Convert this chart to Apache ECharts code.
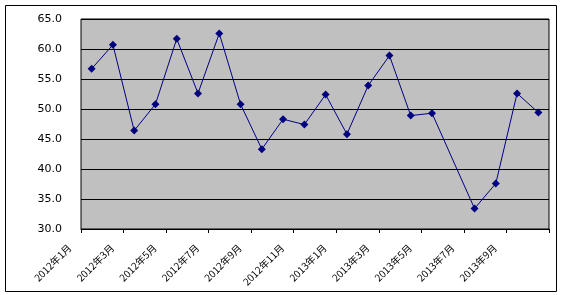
<!DOCTYPE html>
<html><head><meta charset="utf-8">
<script src="https://cdn.jsdelivr.net/npm/echarts@6/dist/echarts.min.js"></script>
<style>html,body{margin:0;padding:0;background:#fff}#c{width:561px;height:295px}</style>
</head><body><div id="c"></div>
<script>
var categories = ['2012年1月','2012年2月','2012年3月','2012年4月','2012年5月','2012年6月','2012年7月','2012年8月','2012年9月','2012年10月','2012年11月','2012年12月','2013年1月','2013年2月','2013年3月','2013年4月','2013年5月','2013年6月','2013年7月','2013年8月','2013年9月','2013年10月'];
var values = [56.7, 60.7, 46.4, 50.8, 61.7, 52.6, 62.6, 50.8, 43.3, 48.3, 47.4, 52.4, 45.8, 53.9, 58.9, 48.9, 49.3, null, 33.4, 37.6, 52.6, 49.4];
var yMin = 30, yMax = 65, yStep = 5;

var chart = echarts.init(document.getElementById('c'), null, {renderer:'canvas'});
chart.setOption({
  animation: false,
  backgroundColor: '#fff',
  graphic: [{type:'rect', shape:{x:5.5,y:5.5,width:551,height:286}, style:{fill:'none', stroke:'#000', lineWidth:1}, silent:true, z:-1}],
  grid: {left:81, right:12, top:19, bottom:66, show:true, backgroundColor:'#C0C0C0', borderColor:'#000', borderWidth:1},
  xAxis: {
    type:'category', data:categories, boundaryGap:true,
    axisLine:{lineStyle:{color:'#000', width:1}},
    axisTick:{show:true, interval:1, length:4, lineStyle:{color:'#000'}},
    axisLabel:{interval:1, rotate:45, margin:-5, padding:[0,31,0,0], fontSize:10, color:'#000', fontFamily:'Noto Sans CJK SC'}
  },
  yAxis: {
    type:'value', min:yMin, max:yMax, interval:yStep,
    axisLine:{show:false}, axisTick:{show:false},
    splitLine:{lineStyle:{color:'#000', width:1}},
    axisLabel:{margin:19, fontSize:11, color:'#000', fontFamily:'DejaVu Sans', formatter:function(v){return v.toFixed(1);}}
  },
  series: [{
    type:'line', data:values, connectNulls:true,
    symbol:'diamond', symbolSize:8,
    lineStyle:{color:'#000080', width:1},
    itemStyle:{color:'#000080'}
  }]
});
</script></body></html>
